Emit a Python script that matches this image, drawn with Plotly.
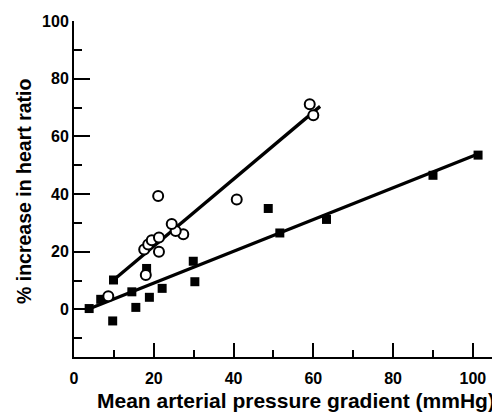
import plotly.graph_objects as go

# Open circles
circle_x = [8.6, 18.0, 17.6, 21.3, 18.6, 19.5, 21.3, 27.4, 25.5, 24.5, 21.1, 40.8, 59.1, 60.0]
circle_y = [4.6, 11.9, 20.8, 20.0, 22.5, 24.0, 24.9, 26.1, 27.2, 29.6, 39.3, 38.1, 71.1, 67.3]

# Filled squares
square_x = [3.8, 6.7, 9.7, 9.9, 14.5, 15.5, 18.2, 18.9, 22.1, 29.9, 30.3, 48.7, 51.6, 63.3, 90.0, 101.3]
square_y = [0.3, 3.5, -4.0, 10.2, 6.1, 0.7, 14.2, 4.2, 7.3, 16.7, 9.6, 35.0, 26.5, 31.2, 46.5, 53.5]

# Regression line end points
circle_fit_x = [9.4, 61.7]
circle_fit_y = [9.6, 70.4]
square_fit_x = [4.0, 100.8]
square_fit_y = [0.3, 53.6]

x_ticks = [0, 20, 40, 60, 80, 100]
y_ticks = [0, 20, 40, 60, 80, 100]

FONT = "Liberation Sans, Arial, sans-serif"

fig = go.Figure()
fig.add_trace(go.Scatter(x=circle_fit_x, y=circle_fit_y, mode="lines",
                         line=dict(color="black", width=3.3), hoverinfo="skip"))
fig.add_trace(go.Scatter(x=square_fit_x, y=square_fit_y, mode="lines",
                         line=dict(color="black", width=3.3), hoverinfo="skip"))
fig.add_trace(go.Scatter(x=square_x, y=square_y, mode="markers",
                         marker=dict(symbol="square", size=9, color="black",
                                     line=dict(width=0))))
fig.add_trace(go.Scatter(x=circle_x, y=circle_y, mode="markers",
                         marker=dict(symbol="circle", size=10, color="white",
                                     line=dict(color="black", width=2))))

# page has an 8px body margin, so the figure is sized 492x409
fig.update_layout(
    width=492, height=409,
    margin=dict(l=66, r=0, t=13, b=60),
    paper_bgcolor="white", plot_bgcolor="white",
    showlegend=False,
    font=dict(family=FONT, color="black"),
    xaxis=dict(range=[0, 106.8], showgrid=False, zeroline=False,
               showline=True, linecolor="black", linewidth=2,
               ticks="inside", ticklen=14, tickwidth=2, tickcolor="black",
               tickvals=x_ticks, ticktext=[str(v) for v in x_ticks],
               tickfont=dict(family=FONT, size=16, color="black", weight="bold"),
               ticklabelstandoff=6,
               minor=dict(dtick=10, tick0=0, ticks="inside", ticklen=7,
                          tickwidth=2, tickcolor="black"),
               fixedrange=True),
    yaxis=dict(range=[-16.5, 100], showgrid=False, zeroline=False,
               showline=True, linecolor="black", linewidth=2,
               ticks="inside", ticklen=16, tickwidth=2, tickcolor="black",
               tickvals=y_ticks, ticktext=[str(v) for v in y_ticks],
               tickfont=dict(family=FONT, size=16, color="black", weight="bold"),
               minor=dict(dtick=10, tick0=0, ticks="inside", ticklen=8,
                          tickwidth=2, tickcolor="black"),
               fixedrange=True),
)

fig.add_annotation(text="Mean arterial pressure gradient (mmHg)",
                   xref="paper", yref="paper", x=(296 - 74) / 426, xanchor="center",
                   y=(357 - 400) / 336, yanchor="middle", showarrow=False,
                   font=dict(family=FONT, size=21, color="black", weight="bold"))
fig.add_annotation(text="% increase in heart ratio",
                   xref="paper", yref="paper", x=(24 - 74) / 426, xanchor="center",
                   y=(357 - 191) / 336, yanchor="middle", textangle=-90, showarrow=False,
                   font=dict(family=FONT, size=19.5, color="black", weight="bold"))

fig.write_html("out.html")
